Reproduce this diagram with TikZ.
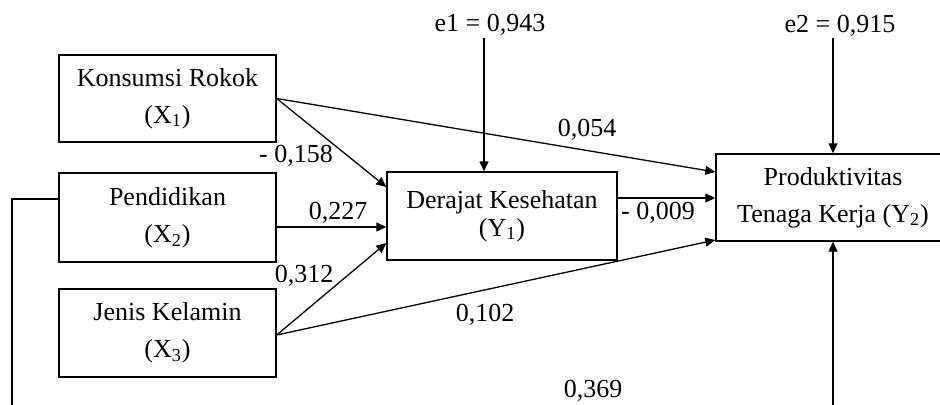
\documentclass[tikz,border=0pt]{standalone}
\usepackage{fontspec}
\setmainfont{Liberation Serif}
\usetikzlibrary{arrows.meta,calc}
\begin{document}
\begin{tikzpicture}[x=0.5pt,y=0.5pt,
  box/.style={draw,line width=0.7pt,align=center,font=\fontsize{13}{18.5}\selectfont,inner sep=0pt},
  tightbox/.style={box,font=\fontsize{13}{14}\selectfont},
  arr/.style={line width=0.65pt,-{Triangle[length=5pt,width=4.5pt]}},
  ln/.style={line width=0.65pt},
  lab/.style={font=\fontsize{13}{15}\selectfont,anchor=base,inner sep=0pt}]
\useasboundingbox (0,0) rectangle (940,405);
% boxes
\node[box,minimum width=108.5pt,minimum height=43.5pt] (x1) at (167.5,306.5) {Konsumsi Rokok\\(X\textsubscript{1})};
\node[box,minimum width=108.5pt,minimum height=44.5pt] (x2) at (167.5,187.5) {Pendidikan\\(X\textsubscript{2})};
\node[box,minimum width=108.5pt,minimum height=44pt] (x3) at (167.5,72) {Jenis Kelamin\\(X\textsubscript{3})};
\node[tightbox,minimum width=115pt,minimum height=44pt] (der) at (502,189) {Derajat Kesehatan\\(Y\textsubscript{1})};
\node[box,minimum width=117pt,minimum height=43.5pt] (prod) at (833,207.5) {Produktivitas\\Tenaga Kerja (Y\textsubscript{2})};
% error terms
\node[lab] (e1) at (490,373) {e1 = 0,943};
\node[lab] (e2) at (840,372) {e2 = 0,915};
\coordinate (e1top) at (484,367);
\coordinate (e2top) at (833,367);
\coordinate (bot) at (833,0);
\coordinate (lcorner) at (12,206);
\coordinate (lbot) at (12,0);
% paths
\draw[arr] (e1top) -- (der.north -| e1top);
\draw[arr] (e2top) -- (prod.north -| e2top);
\draw[arr] (bot) -- (prod.south -| bot);
\draw[ln] ($(x2.west)+(0,18.5)$) -- (lcorner) -- (lbot);
\draw[arr] (x1.east) -- ($(der.west)+(0,29)$);
\draw[arr] (x1.east) -- ($(prod.west)+(0,25.5)$);
\draw[arr] ($(x2.east)+(0,-9.5)$) -- ($(der.west)+(0,-11)$);
\draw[arr] ($(x3.east)+(0,-2)$) -- ($(der.west)+(0,-27)$);
\draw[arr] ($(x3.east)+(0,-2)$) -- ($(prod.west)+(0,-42.5)$);
\draw[arr] ($(der.east)+(0,18)$) -- ($(prod.west)+(0,-0.5)$);
% labels
\node[lab] (l1) at (296,242) {- 0,158};
\node[lab] (l2) at (338,185) {0,227};
\node[lab] (l3) at (304,122) {0,312};
\node[lab] (l4) at (587,268) {0,054};
\node[lab] (l5) at (658,185) {- 0,009};
\node[lab] (l6) at (485,83) {0,102};
\node[lab] (l7) at (593,7) {0,369};
\end{tikzpicture}
\end{document}
